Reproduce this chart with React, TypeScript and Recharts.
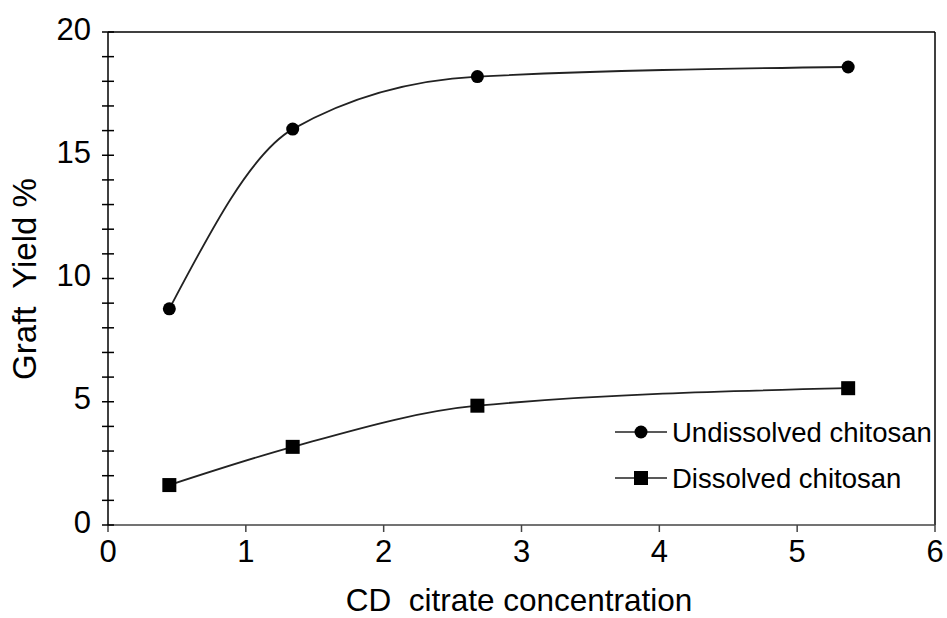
import React from 'react';
import { LineChart, Line, XAxis, YAxis, ReferenceLine } from 'recharts';

const concentration = [0.445, 1.34, 2.68, 5.37];
const undissolved = [8.77, 16.06, 18.19, 18.58];
const dissolved = [1.62, 3.17, 4.84, 5.55];
const xTicks = [0, 1, 2, 3, 4, 5, 6];
const yTicks = Array.from({ length: 21 }, (_, i) => i);

const data = concentration.map((c, i) => ({
  c,
  undissolved: undissolved[i],
  dissolved: dissolved[i],
}));

const font = '"Liberation Sans", Arial, sans-serif';

const CircleDot = ({ cx, cy }: any) => <circle cx={cx} cy={cy} r={6.5} fill="#000" />;
const SquareDot = ({ cx, cy }: any) => <rect x={cx - 7} y={cy - 7} width={14} height={14} fill="#000" />;

const YTick = ({ x, y, payload }: any) => (
  <g>
    <line x1={x - 6} x2={x + 6} y1={y} y2={y} stroke="#000" strokeWidth={1.5} />
    {payload.value % 5 === 0 && (
      <text x={x - 17} y={y - 3} textAnchor="end" dominantBaseline="central" fontSize={31} fontFamily={font} fill="#000">
        {payload.value}
      </text>
    )}
  </g>
);

// legend drawn as an overlay so it doesn't eat into the plot area
const LegendBox = () => (
  <svg width={330} height={100} style={{ position: 'absolute', left: 615, top: 416 }}>
    <line x1={0} x2={52} y1={16} y2={16} stroke="#222" strokeWidth={1.5} />
    <circle cx={26} cy={16} r={6.5} fill="#000" />
    <text x={57} y={16} dominantBaseline="central" fontSize={27.5} fontFamily={font} fill="#000">
      Undissolved chitosan
    </text>
    <line x1={0} x2={52} y1={62} y2={62} stroke="#222" strokeWidth={1.5} />
    <rect x={19} y={55} width={14} height={14} fill="#000" />
    <text x={57} y={62} dominantBaseline="central" fontSize={27.5} fontFamily={font} fill="#000">
      Dissolved chitosan
    </text>
  </svg>
);

export default function App() {
  return (
    <div style={{ position: 'absolute', left: 0, top: 0, width: 947, height: 618, background: '#fff' }}>
      <LineChart width={947} height={618} data={data} margin={{ top: 32, right: 12, bottom: 63, left: 0 }}>
        <XAxis
          dataKey="c"
          type="number"
          domain={[0, 6]}
          ticks={xTicks}
          interval={0}
          height={30}
          tickSize={7}
          tickMargin={8}
          stroke="#444"
          strokeWidth={1.5}
          tick={{ fontSize: 31, fontFamily: font, fill: '#000' }}
          label={() => (
            <text x={519} y={611} textAnchor="middle" fontSize={31.5} fontFamily={font} fill="#000" style={{ whiteSpace: 'pre' }}>
              {'CD  citrate concentration'}
            </text>
          )}
        />
        <YAxis
          type="number"
          domain={[0, 20]}
          ticks={yTicks}
          interval={0}
          width={108}
          tickSize={0}
          tickMargin={0}
          tickLine={false}
          tick={<YTick />}
          stroke="#000"
          strokeWidth={1.5}
          label={() => (
            <text
              x={24}
              y={279}
              textAnchor="middle"
              dominantBaseline="central"
              transform="rotate(-90 24 279)"
              fontSize={33}
              fontFamily={font}
              fill="#000"
              style={{ whiteSpace: 'pre' }}
            >
              {'Graft  Yield %'}
            </text>
          )}
        />
        <ReferenceLine y={20} stroke="#000" strokeWidth={1.5} />
        <ReferenceLine x={6} stroke="#000" strokeWidth={1.5} />
        <Line
          type="monotone"
          dataKey="undissolved"
          stroke="#222"
          strokeWidth={1.8}
          dot={<CircleDot />}
          activeDot={false}
          isAnimationActive={false}
        />
        <Line
          type="monotone"
          dataKey="dissolved"
          stroke="#222"
          strokeWidth={1.8}
          dot={<SquareDot />}
          activeDot={false}
          isAnimationActive={false}
        />
      </LineChart>
      <LegendBox />
    </div>
  );
}
